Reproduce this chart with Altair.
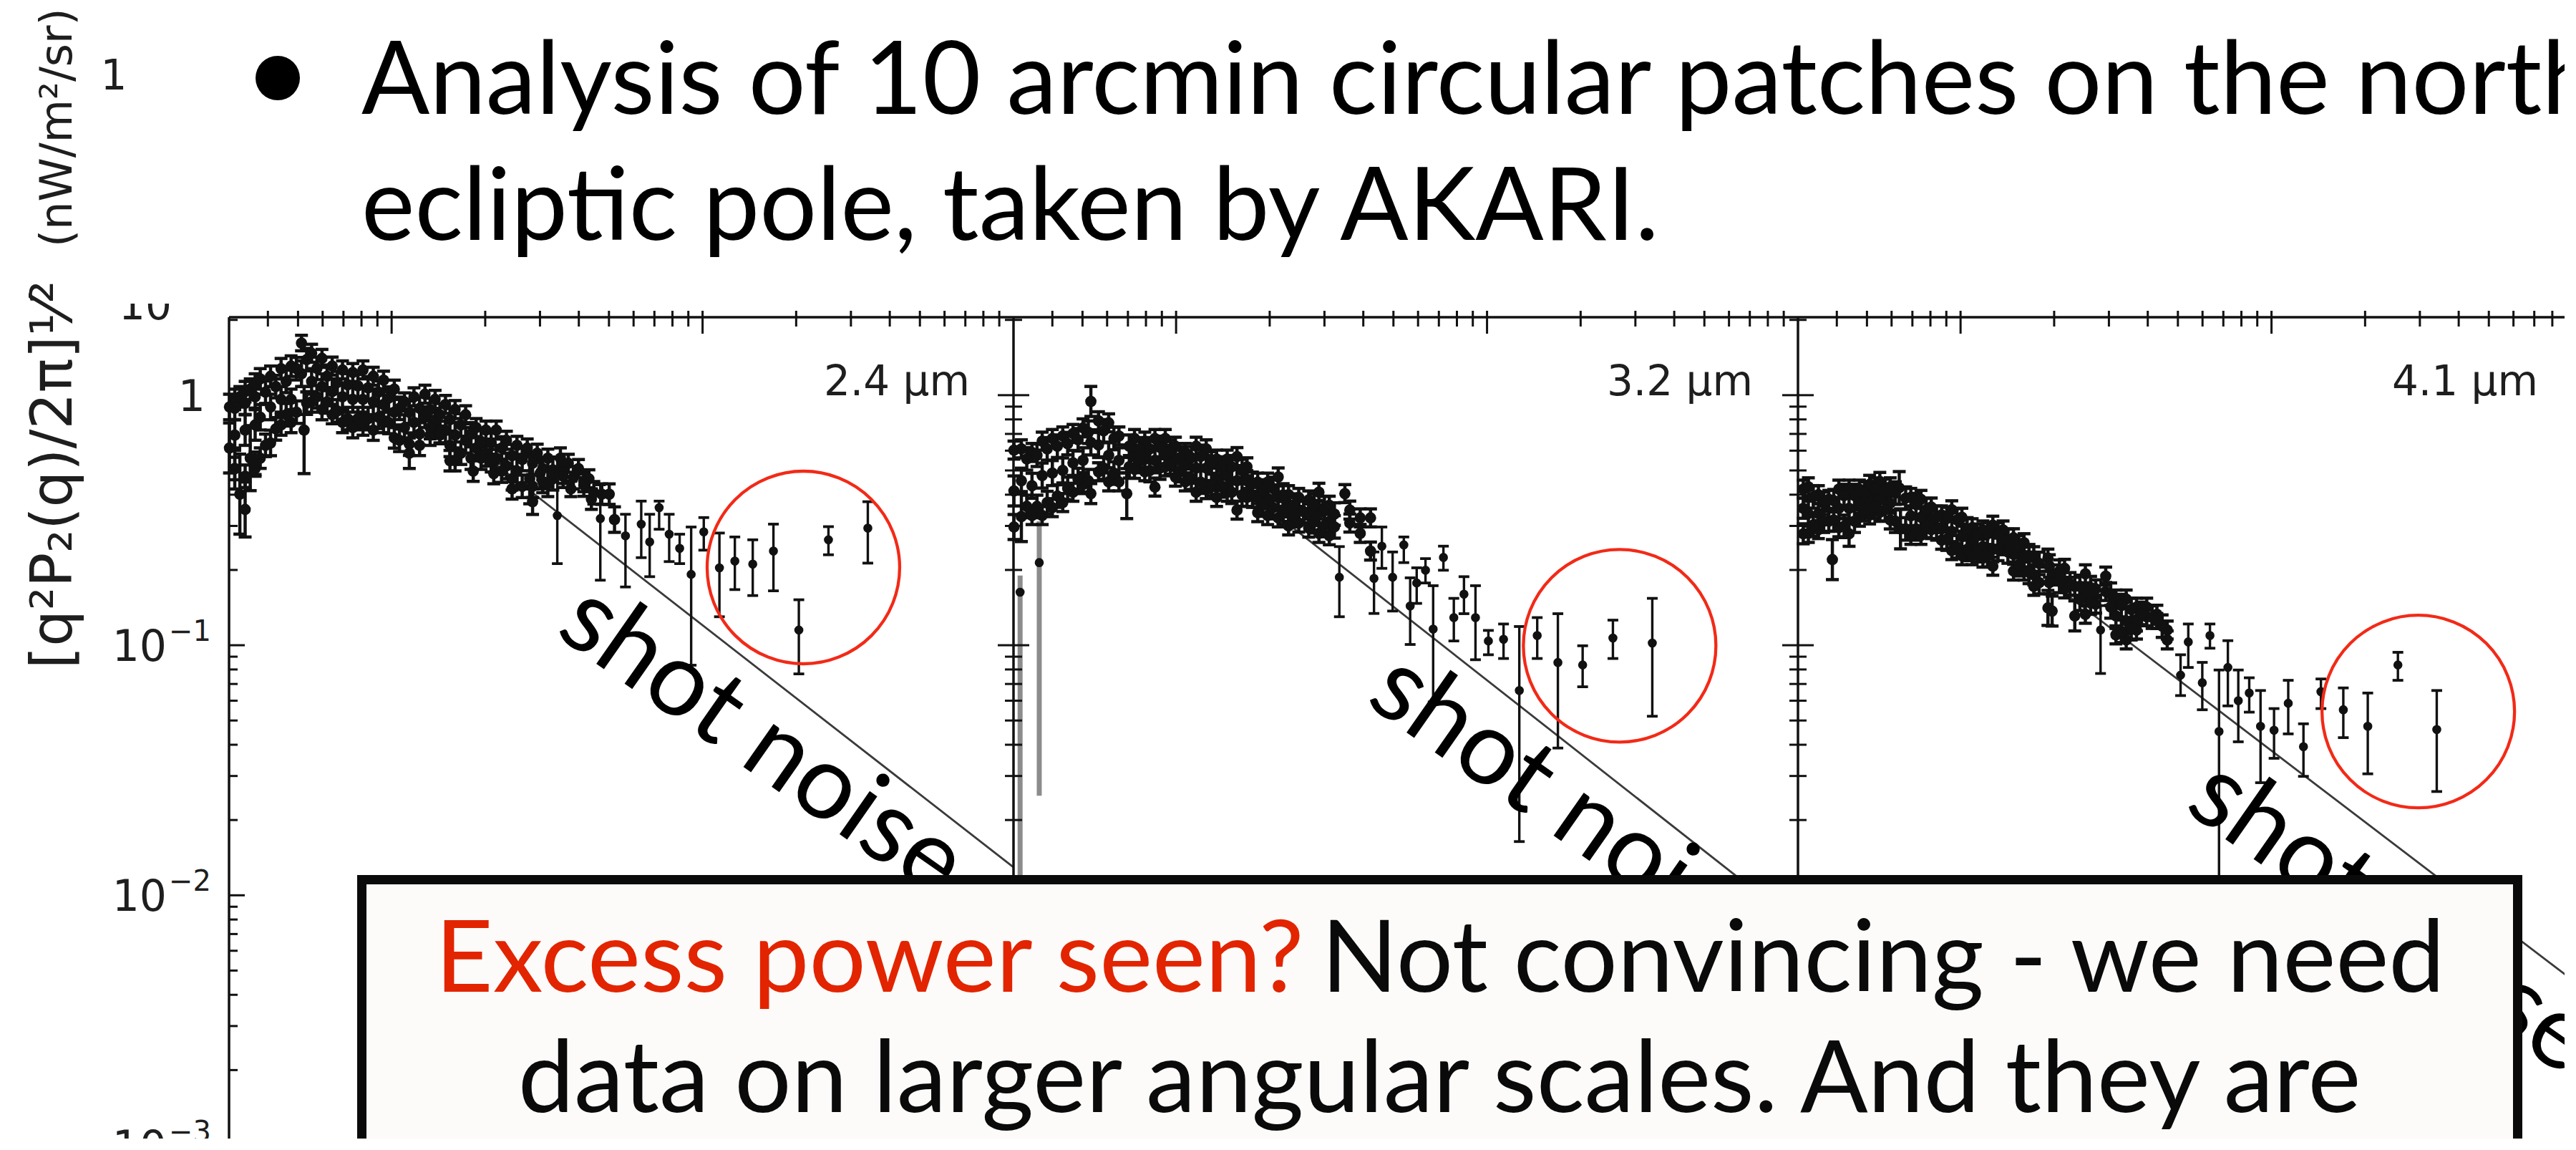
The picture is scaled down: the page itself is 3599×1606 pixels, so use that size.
import altair as alt
import pandas as pd

# ---------------- data ----------------
# dense small-scale points: (theta [arcsec], value, half error in dex)
P1_DENSE = [
    (3.01, 0.897, .051), (3.01, 0.615, .10),
    (3.13, 0.962, .041), (3.13, 0.692, .061), (3.13, 0.509, .082),
    (3.25, 0.985, .041), (3.25, 0.402, .16),
    (3.38, 1.033, .041), (3.38, 0.725, .061), (3.38, 0.349, .11),
    (3.51, 1.057, .041), (3.51, 0.560, .13),
    (3.64, 1.108, .041), (3.64, 0.760, .061), (3.64, 0.509, .031),
    (3.78, 1.162, .041), (3.78, 0.816, .051), (3.78, 0.560, .041),
    (4.08, 1.19, .041), (4.08, 0.897, .051), (4.08, 0.644, .051),
    (4.41, 1.276, .041), (4.41, 0.962, .051), (4.41, 0.760, .041),
    (4.75, 1.307, .041), (4.75, 0.962, .041), (4.75, 0.778, .041),
    (5.13, 1.616, .031), (5.13, 1.218, .051), (5.23, 0.725, .174),
    (5.53, 1.471, .036), (5.53, 1.135, .051), (5.53, 0.940, .041),
    (5.97, 1.403, .036), (5.97, 1.082, .051), (5.97, 0.876, .041),
    (6.44, 1.307, .036), (6.44, 1.033, .051), (6.44, 0.835, .036),
    (6.95, 1.262, .036), (6.95, 0.985, .051), (6.95, 0.778, .041),
    (7.50, 1.232, .036), (7.50, 0.962, .051), (7.50, 0.742, .041),
    (8.09, 1.262, .036), (8.09, 0.962, .051), (8.09, 0.760, .041),
    (8.73, 1.19, .036), (8.73, 0.940, .051), (8.73, 0.725, .041),
    (9.42, 1.148, .036), (9.42, 0.918, .051), (9.42, 0.778, .041),
    (10.2, 1.057, .036), (10.2, 0.855, .051), (10.2, 0.675, .041),
    (11.0, 0.940, .036), (11.0, 0.742, .051), (11.4, 0.586, .061),
    (11.8, 0.985, .036), (11.8, 0.778, .051), (12.3, 0.630, .041),
    (12.8, 1.009, .036), (12.8, 0.816, .041), (13.3, 0.692, .041),
    (13.8, 0.962, .036), (13.8, 0.778, .051), (14.3, 0.692, .031),
    (14.9, 0.918, .036), (14.9, 0.725, .051), (15.4, 0.547, .041),
    (16.0, 0.876, .036), (16.0, 0.692, .051), (16.0, 0.547, .041),
    (17.3, 0.835, .036), (17.3, 0.660, .051), (18.3, 0.497, .041),
    (18.7, 0.742, .036), (18.7, 0.615, .041),
    (20.1, 0.725, .036), (20.1, 0.586, .051), (21.3, 0.486, .041),
    (21.7, 0.725, .036), (21.7, 0.560, .051),
    (23.4, 0.660, .036), (23.4, 0.521, .051), (24.4, 0.422, .041),
    (25.3, 0.630, .036), (25.3, 0.497, .061),
    (27.3, 0.615, .036), (27.8, 0.463, .10), (28.4, 0.375, .051),
    (29.4, 0.586, .036), (30.0, 0.486, .061),
    (31.8, 0.560, .036), (31.8, 0.442, .051),
    (34.9, 0.560, .041),
    (37.0, 0.534, .036), (37.7, 0.422, .031),
    (39.9, 0.509, .036), (41.5, 0.452, .041),
    (43.1, 0.463, .036), (43.9, 0.384, .041),
    (47.4, 0.402, .041), (50.1, 0.402, .041), (52.1, 0.318, .051),
]
P1_DENSE_B = [
    (3.13, 0.886, .045), (3.13, 0.509, .045), (3.38, 0.929, .045), (3.38, 0.474, .045),
    (3.64, 0.985, .045), (3.64, 0.534, .045), (3.93, 1.028, .045), (3.93, 0.630, .045),
    (4.24, 1.082, .045), (4.24, 0.733, .045), (4.58, 1.135, .045), (4.58, 0.835, .045),
    (4.94, 1.276, .045), (4.94, 0.855, .045), (5.33, 1.387, .045), (5.33, 0.929, .045),
    (5.75, 1.28, .045), (5.75, 0.985, .045), (6.20, 1.19, .045), (6.20, 0.940, .045),
    (6.69, 1.123, .045), (6.69, 0.865, .045), (7.22, 1.10, .045), (7.22, 0.806, .045),
    (7.79, 1.09, .045), (7.79, 0.806, .045), (8.40, 1.07, .045), (8.40, 0.806, .045),
    (9.07, 1.028, .045), (9.07, 0.816, .045), (9.78, 0.973, .045), (9.78, 0.778, .045),
    (10.6, 0.886, .045), (10.6, 0.660, .045), (11.4, 0.855, .045), (11.4, 0.637, .045),
    (12.3, 0.886, .045), (12.3, 0.70, .045), (13.3, 0.876, .045), (13.3, 0.742, .045),
    (14.3, 0.835, .045), (14.3, 0.709, .045), (15.4, 0.797, .045), (15.4, 0.630, .045),
    (16.7, 0.760, .045), (16.7, 0.586, .045), (18.0, 0.70, .045), (18.0, 0.560, .045),
    (19.4, 0.652, .045), (19.4, 0.560, .045), (20.9, 0.644, .045), (20.9, 0.547, .045),
    (22.6, 0.615, .045), (22.6, 0.497, .045), (24.4, 0.573, .045), (24.4, 0.463, .045),
    (26.3, 0.553, .045), (26.3, 0.432, .045), (28.4, 0.534, .045), (28.4, 0.432, .045),
    (30.6, 0.509, .045), (30.6, 0.452, .045), (33.0, 0.503, .045), (33.0, 0.463, .045),
    (35.6, 0.492, .045), (35.6, 0.474, .045), (38.4, 0.468, .045), (41.5, 0.437, .045),
    (44.7, 0.407, .045),
]
# isolated points: (theta, value, lower, upper)
P1_SPARSE = [
    (34.1, 0.330, 0.212, 0.567), (46.9, 0.321, 0.182, 0.438),
    (56.5, 0.274, 0.171, 0.334), (63.5, 0.305, 0.224, 0.377),
    (67.6, 0.259, 0.188, 0.334), (72.5, 0.355, 0.291, 0.377),
    (78.1, 0.278, 0.216, 0.334), (84.4, 0.244, 0.212, 0.278),
    (91.9, 0.192, 0.0832, 0.297), (100.9, 0.284, 0.240, 0.324),
    (113.3, 0.204, 0.130, 0.281), (127, 0.217, 0.167, 0.271),
    (145, 0.211, 0.158, 0.264), (169, 0.238, 0.165, 0.305),
    (204, 0.115, 0.0768, 0.152), (254, 0.264, 0.230, 0.298),
    (340, 0.294, 0.213, 0.375),
]

P2_DENSE = [
    (3.01, 0.603, .036), (3.01, 0.414, .06), (3.01, 0.297, .05),
    (3.18, 0.61, .036), (3.18, 0.455, .05), (3.18, 0.327, .1),
    (3.44, 0.59, .036), (3.44, 0.434, .05), (3.44, 0.33, .036),
    (3.71, 0.655, .036), (3.71, 0.477, .05), (3.71, 0.33, .036),
    (4.00, 0.671, .036), (4.00, 0.488, .05), (4.00, 0.355, .036),
    (4.32, 0.687, .036), (4.32, 0.500, .05), (4.32, 0.372, .036),
    (4.66, 0.703, .036), (4.66, 0.536, .05), (4.66, 0.409, .036),
    (5.02, 0.74, .036), (5.02, 0.549, .05), (5.02, 0.439, .036),
    (5.32, 0.944, .06), (5.32, 0.647, .05), (5.32, 0.404, .04),
    (5.63, 0.79, .036), (5.63, 0.632, .05), (5.63, 0.494, .036),
    (6.07, 0.775, .036), (6.07, 0.575, .05), (6.07, 0.45, .036),
    (6.55, 0.687, .036), (6.55, 0.549, .05), (6.55, 0.45, .036),
    (6.94, 0.404, .1),
    (7.35, 0.671, .036), (7.35, 0.575, .04), (7.35, 0.505, .036),
    (7.93, 0.655, .036), (7.93, 0.562, .04), (7.93, 0.494, .036),
    (8.55, 0.671, .036), (8.55, 0.549, .05), (8.55, 0.429, .036),
    (9.23, 0.671, .036), (9.23, 0.575, .04), (9.23, 0.517, .036),
    (9.95, 0.625, .036), (9.95, 0.549, .04), (9.95, 0.47, .036),
    (10.7, 0.59, .036), (10.7, 0.524, .04), (10.7, 0.45, .036),
    (11.6, 0.625, .036), (11.6, 0.511, .05), (11.6, 0.409, .036),
    (12.5, 0.61, .036), (12.5, 0.511, .05), (12.5, 0.419, .036),
    (13.5, 0.555, .036), (13.5, 0.466, .05), (13.5, 0.39, .036),
    (14.6, 0.555, .036), (14.6, 0.477, .04), (14.6, 0.409, .036),
    (15.7, 0.568, .036), (15.7, 0.455, .05), (15.7, 0.347, .036),
    (16.9, 0.517, .036), (16.9, 0.455, .04), (16.9, 0.39, .036),
    (18.3, 0.449, .036), (18.3, 0.39, .04), (18.3, 0.339, .036),
    (19.7, 0.449, .036), (19.7, 0.386, .04), (19.7, 0.33, .036),
    (21.3, 0.471, .036), (21.3, 0.39, .05), (21.3, 0.323, .036),
    (23.0, 0.40, .036), (23.0, 0.343, .04), (23.0, 0.30, .036),
    (24.8, 0.39, .036), (24.8, 0.343, .04), (24.8, 0.308, .036),
    (26.7, 0.381, .036), (26.7, 0.335, .04), (26.7, 0.294, .036),
    (28.8, 0.409, .036), (28.8, 0.338, .05), (28.8, 0.28, .036),
    (31.1, 0.363, .036), (31.1, 0.312, .04), (31.1, 0.274, .036),
    (34.9, 0.404, .036),
    (36.2, 0.347, .036), (36.2, 0.308, .036),
    (39.1, 0.323, .036), (39.1, 0.28, .036),
    (42.2, 0.323, .036), (42.2, 0.238, .036),
]
P2_DENSE_B = [
    (3.31, 0.556, .045), (3.31, 0.359, .045), (3.57, 0.575, .045), (3.57, 0.359, .045),
    (3.85, 0.610, .045), (3.85, 0.372, .045), (4.15, 0.625, .045), (4.15, 0.395, .045),
    (4.48, 0.640, .045), (4.48, 0.424, .045), (4.84, 0.663, .045), (4.84, 0.46, .045),
    (5.22, 0.711, .045), (5.22, 0.455, .045), (5.85, 0.720, .045), (5.85, 0.511, .045),
    (6.31, 0.671, .045), (6.31, 0.488, .045), (7.07, 0.625, .045), (7.07, 0.517, .045),
    (7.63, 0.610, .045), (7.63, 0.543, .045), (8.23, 0.610, .045), (8.23, 0.4995, .045),
    (8.88, 0.618, .045), (8.88, 0.511, .045), (9.58, 0.596, .045), (9.58, 0.536, .045),
    (10.3, 0.562, .045), (10.3, 0.4995, .045), (11.2, 0.562, .045), (11.2, 0.4655, .045),
    (12.0, 0.569, .045), (12.0, 0.449, .045), (13.0, 0.536, .045), (13.0, 0.439, .045),
    (14.0, 0.511, .045), (14.0, 0.4337, .045), (15.1, 0.517, .045), (15.1, 0.409, .045),
    (16.3, 0.4995, .045), (16.3, 0.399, .045), (17.6, 0.444, .045), (17.6, 0.3947, .045),
    (19.0, 0.4137, .045), (19.0, 0.3635, .045), (20.5, 0.4236, .045), (20.5, 0.355, .045),
    (22.1, 0.399, .045), (22.1, 0.3386, .045), (23.9, 0.3635, .045), (23.9, 0.33, .045),
    (25.7, 0.3426, .045), (27.8, 0.3635, .045), (27.8, 0.3118, .045),
    (30.0, 0.355, .045), (30.0, 0.301, .045), (32.3, 0.3346, .045), (32.3, 0.2974, .045),
]
P2_SPARSE = [
    (33.5, 0.187, 0.130, 0.248), (43.3, 0.185, 0.134, 0.236),
    (45.9, 0.249, 0.203, 0.297), (49.7, 0.187, 0.137, 0.236),
    (54.0, 0.252, 0.214, 0.271), (56.6, 0.1435, 0.1007, 0.186),
    (59.4, 0.1774, 0.147, 0.204), (63.4, 0.1995, 0.1774, 0.222),
    (67.1, 0.116, 0.0593, 0.173), (72.4, 0.2245, 0.1995, 0.249),
    (78.2, 0.129, 0.104, 0.154), (84.3, 0.160, 0.1337, 0.188),
    (91.8, 0.129, 0.0875, 0.173), (101, 0.104, 0.0916, 0.1146),
    (113, 0.1056, 0.0885, 0.1216), (127, 0.0659, 0.0164, 0.1188),
    (145, 0.1094, 0.0885, 0.129), (169, 0.0853, 0.0388, 0.1337),
    (203, 0.0834, 0.0682, 0.0995), (254, 0.1069, 0.0885, 0.126),
    (340, 0.102, 0.052, 0.154),
]
P2_GRAY = [(3.15, 0.163, 0.002, 0.19), (3.63, 0.214, 0.025, 0.313)]

P3_DENSE = [
    (3.12, 0.421, .036), (3.12, 0.353, .04), (3.12, 0.279, .04),
    (3.24, 0.43, .036), (3.24, 0.336, .05), (3.24, 0.28, .036),
    (3.49, 0.40, .036), (3.49, 0.336, .04), (3.49, 0.29, .036),
    (3.77, 0.383, .036), (3.77, 0.313, .04), (3.87, 0.22, .08),
    (4.06, 0.421, .036), (4.06, 0.353, .04), (4.06, 0.295, .036),
    (4.38, 0.421, .036), (4.38, 0.353, .04), (4.38, 0.279, .05),
    (4.73, 0.421, .036), (4.73, 0.37, .04), (4.73, 0.325, .036),
    (5.10, 0.44, .036), (5.10, 0.378, .04), (5.10, 0.332, .036),
    (5.50, 0.452, .036), (5.50, 0.387, .04), (5.50, 0.34, .036),
    (5.94, 0.43, .036), (5.94, 0.37, .04), (5.94, 0.317, .036),
    (6.35, 0.426, .065), (6.41, 0.292, .08),
    (6.92, 0.39, .036), (6.92, 0.329, .04), (6.92, 0.275, .036),
    (7.46, 0.383, .036), (7.46, 0.325, .04), (7.46, 0.275, .036),
    (8.05, 0.357, .036), (8.05, 0.313, .04), (8.05, 0.29, .036),
    (8.69, 0.332, .036), (8.69, 0.292, .04), (8.69, 0.263, .036),
    (9.37, 0.348, .036), (9.37, 0.285, .05), (9.37, 0.239, .036),
    (10.1, 0.325, .036), (10.1, 0.272, .05), (10.1, 0.228, .036),
    (10.9, 0.295, .036), (10.9, 0.253, .04), (10.9, 0.228, .036),
    (11.8, 0.289, .036), (11.8, 0.248, .04), (11.8, 0.223, .036),
    (12.7, 0.302, .036), (12.7, 0.242, .05), (12.7, 0.207, .036),
    (13.7, 0.289, .036), (13.7, 0.266, .03), (13.7, 0.25, .036),
    (14.8, 0.269, .036), (14.8, 0.231, .04), (14.8, 0.198, .036),
    (16.0, 0.257, .036), (16.0, 0.225, .04), (16.0, 0.198, .036),
    (17.2, 0.228, .036), (17.2, 0.191, .04), (17.2, 0.172, .036),
    (19.1, 0.223, .036), (19.1, 0.141, .07),
    (19.7, 0.191, .04), (19.7, 0.137, .06),
    (21.6, 0.203, .036), (21.6, 0.168, .036),
    (23.3, 0.172, .036), (23.3, 0.131, .06),
    (25.2, 0.193, .036), (25.2, 0.158, .04), (25.2, 0.133, .036),
    (27.2, 0.168, .036), (27.2, 0.146, .036),
    (29.3, 0.189, .036), (29.3, 0.164, .036),
    (31.6, 0.153, .036), (31.6, 0.131, .05), (31.6, 0.11, .036),
    (34.1, 0.153, .036), (34.1, 0.125, .05), (34.1, 0.105, .036),
    (36.8, 0.142, .036), (36.8, 0.125, .04), (36.8, 0.115, .036),
    (39.7, 0.142, .036), (39.7, 0.13, .036),
    (42.8, 0.133, .036), (42.8, 0.125, .03),
    (46.2, 0.115, .036), (46.2, 0.105, .036),
]
P3_DENSE_B = [
    (3.36, 0.392, .045), (3.36, 0.3025, .045), (3.63, 0.3695, .045), (3.63, 0.3133, .045),
    (3.91, 0.3784, .045), (3.91, 0.317, .045), (4.22, 0.3967, .045), (4.22, 0.2989, .045),
    (4.56, 0.3967, .045), (4.56, 0.3133, .045), (4.91, 0.406, .045), (4.91, 0.3484, .045),
    (5.30, 0.4207, .045), (5.30, 0.3566, .045), (5.72, 0.416, .045), (5.72, 0.3484, .045),
    (6.17, 0.406, .045), (6.17, 0.3133, .045), (6.66, 0.3874, .045), (6.66, 0.2919, .045),
    (7.19, 0.3652, .045), (7.19, 0.2919, .045), (7.75, 0.3484, .045), (7.75, 0.2989, .045),
    (8.37, 0.3246, .045), (8.37, 0.2919, .045), (9.03, 0.3209, .045), (9.03, 0.2657, .045),
    (9.74, 0.317, .045), (9.74, 0.2475, .045), (10.5, 0.2919, .045), (10.5, 0.2417, .045),
    (11.3, 0.2753, .045), (11.3, 0.2389, .045), (12.2, 0.2785, .045), (12.2, 0.228, .045),
    (13.2, 0.2785, .045), (13.2, 0.2417, .045), (14.2, 0.2626, .045), (14.2, 0.236, .045),
    (15.4, 0.2475, .045), (15.4, 0.2099, .045), (16.6, 0.228, .045), (16.6, 0.1956, .045),
    (17.9, 0.2124, .045), (17.9, 0.178, .045), (19.3, 0.2074, .045), (19.3, 0.178, .045),
    (20.8, 0.1978, .045), (20.8, 0.18, .045), (22.5, 0.176, .045),
    (24.2, 0.1718, .045), (24.2, 0.1527, .045), (26.2, 0.17, .045), (26.2, 0.1474, .045),
    (30.4, 0.16, .045), (30.4, 0.1423, .045), (32.9, 0.144, .045), (32.9, 0.1137, .045),
    (35.4, 0.139, .045), (35.4, 0.1164, .045), (38.2, 0.134, .045), (41.3, 0.1295, .045),
    (44.5, 0.1192, .045),
]
P3_SPARSE = [
    (28.2, 0.1151, 0.0771, 0.144), (51.0, 0.0759, 0.0629, 0.0916),
    (54.0, 0.1031, 0.0815, 0.1216), (59.9, 0.0708, 0.0552, 0.0854),
    (63.4, 0.1094, 0.0973, 0.1216), (67.8, 0.0452, 0.002, 0.0796),
    (72.4, 0.0815, 0.0572, 0.1043), (78.2, 0.06, 0.0411, 0.0796),
    (84.8, 0.0644, 0.054, 0.0741), (92.2, 0.0474, 0.0282, 0.0659),
    (101.9, 0.0457, 0.0353, 0.0558), (113.2, 0.0586, 0.0442, 0.0724),
    (126.7, 0.0393, 0.0299, 0.0485), (144.2, 0.0652, 0.0558, 0.0733),
    (170.2, 0.0552, 0.0427, 0.0675), (204, 0.0474, 0.0306, 0.0644),
    (255, 0.0834, 0.0724, 0.0937), (340, 0.046, 0.026, 0.0659),
]

# shot-noise lines (end points) and highlighted regions (circle centres)
SHOT = [
    [(20, 0.571), (1000, 0.01294)],
    [(22, 0.318), (1000, 0.00764)],
    [(22, 0.159), (1000, 0.00427)],
]
CIRCLES = [(211, 0.2046), (267, 0.0995), (296.5, 0.0543)]
WAVELENGTHS = ["2.4  μm", "3.2  μm", "4.1  μm"]

X_MINOR = [4, 5, 6, 7, 8, 9, 20, 30, 40, 50, 60, 70, 80, 90,
           200, 300, 400, 500, 600, 700, 800, 900]
X_MAJOR = [10, 100]
Y_MAJOR = [1, 0.1, 0.01, 0.001]
Y_MINOR = [0.002, 0.003, 0.004, 0.005, 0.006, 0.007, 0.008, 0.009,
           0.02, 0.03, 0.04, 0.05, 0.06, 0.07, 0.08, 0.09,
           0.2, 0.3, 0.4, 0.5, 0.6, 0.7, 0.8, 0.9, 2]
Y_LABEL_EXP = ["−1", "−2", "−3"]

TITLE_1 = "Analysis of 10 arcmin circular patches on the north"
TITLE_2 = "ecliptic pole, taken by AKARI."
Y_TITLE_MAIN = "[q²P₂(q)/2π]¹⁄²"
Y_TITLE_UNIT = "(nW/m²/sr)"
SHOT_LABEL = "shot noise"
BOX_RED = "Excess power seen?"
BOX_BLACK = "Not convincing - we need"
BOX_LINE2 = "data on larger angular scales. And they are"

# ---------------- layout (page pixels) ----------------
OFF = 8
W, H = 3575, 1582
PANEL_LEFT = [320, 1416, 2512]
PANEL_W = 1096
FRAMES = [320, 1416, 2512, 3608]
TOP = 443
Y_BOTTOM = 1599.5
INK = "#111111"
AXTXT = "#1e1e1e"
RED = "#f22a17"

ysc = alt.Scale(type="log", domain=[0.001, 2.05],
                range=[Y_BOTTOM - OFF, TOP - OFF], nice=False)


def Y(f):
    return alt.Y(f"{f}:Q", scale=ysc, axis=None)


def one(text=""):
    return pd.DataFrame({"t": [text]})


def txt(text, x, y, size, font="DejaVu Sans", color=INK, align="left", angle=None):
    kw = dict(font=font, fontSize=size, color=color, align=align, baseline="alphabetic")
    if angle is not None:
        kw["angle"] = angle
    return alt.Chart(one(text)).mark_text(**kw).encode(
        text="t:N", x=alt.value(x - OFF), y=alt.value(y - OFF))


def rule(x, y, x2=None, y2=None, width=3.5, color=INK):
    enc = dict(x=alt.value(x - OFF), y=alt.value(y - OFF))
    if x2 is not None:
        enc["x2"] = alt.value(x2 - OFF)
    if y2 is not None:
        enc["y2"] = alt.value(y2 - OFF)
    return alt.Chart(one()).mark_rule(color=color, strokeWidth=width).encode(**enc)


def bars(df, X, dot, width, cap, capw):
    base = alt.Chart(df)
    return [
        base.mark_rule(color=INK, strokeWidth=width).encode(x=X(), y=Y("lo"), y2=alt.Y2("hi")),
        base.mark_tick(orient="horizontal", size=cap, thickness=capw, color=INK, opacity=1).encode(x=X(), y=Y("lo")),
        base.mark_tick(orient="horizontal", size=cap, thickness=capw, color=INK, opacity=1).encode(x=X(), y=Y("hi")),
        base.mark_circle(size=dot, color=INK, opacity=1).encode(x=X(), y=Y("v")),
    ]


def panel(i, dense, dense_b, sparse, gray=None):
    L = PANEL_LEFT[i] - OFF
    xsc = alt.Scale(type="log", domain=[3, 1000], range=[L, L + PANEL_W], nice=False)

    def X(f="theta"):
        return alt.X(f"{f}:Q", scale=xsc, axis=None)

    d = pd.DataFrame(list(dense) + list(dense_b), columns=["theta", "v", "e"])
    d["lo"] = d["v"] / 10 ** d["e"]
    d["hi"] = d["v"] * 10 ** d["e"]
    s = pd.DataFrame(sparse, columns=["theta", "v", "lo", "hi"])
    shot = pd.DataFrame(SHOT[i], columns=["theta", "v"])

    layers = [alt.Chart(shot).mark_line(color="#3a3a3a", strokeWidth=2.8).encode(x=X(), y=Y("v"))]
    if gray:
        g = pd.DataFrame(gray, columns=["theta", "v", "lo", "hi"])
        layers.append(alt.Chart(g).mark_rule(color="#8c8c8c", strokeWidth=7).encode(
            x=X(), y=Y("lo"), y2=alt.Y2("hi")))
        layers.append(alt.Chart(g).mark_circle(size=160, color=INK, opacity=1).encode(x=X(), y=Y("v")))
    layers += bars(d[["theta", "v", "lo", "hi"]], X, 250, 4.5, 18, 4.5)
    layers += bars(s, X, 160, 3.4, 15, 3.8)
    layers += [
        alt.Chart(pd.DataFrame({"t": X_MINOR})).mark_rule(color=INK, strokeWidth=3).encode(
            x=X("t"), y=alt.value(TOP - OFF - 9), y2=alt.value(TOP - OFF + 13)),
        alt.Chart(pd.DataFrame({"t": X_MAJOR})).mark_rule(color=INK, strokeWidth=3).encode(
            x=X("t"), y=alt.value(TOP - OFF - 9), y2=alt.value(TOP - OFF + 23)),
        alt.Chart(pd.DataFrame([CIRCLES[i]], columns=["theta", "v"])).mark_point(
            shape="circle", size=269 ** 2, filled=False, color=RED, strokeWidth=4.3, opacity=1
        ).encode(x=X(), y=Y("v")),
    ]
    return alt.layer(*layers)


def yticks(vals, x, length):
    return alt.Chart(pd.DataFrame({"v": vals})).mark_rule(color=INK, strokeWidth=3).encode(
        y=Y("v"), x=alt.value(x - OFF), x2=alt.value(x - OFF + length))


layers = [
    panel(0, P1_DENSE, P1_DENSE_B, P1_SPARSE),
    panel(1, P2_DENSE, P2_DENSE_B, P2_SPARSE, P2_GRAY),
    panel(2, P3_DENSE, P3_DENSE_B, P3_SPARSE),
]

# frames
for fx in FRAMES:
    layers.append(rule(fx, TOP, y2=1700))
layers.append(rule(PANEL_LEFT[0], TOP, x2=FRAMES[-1]))
for k, fx in enumerate(FRAMES):
    if k < 3:
        layers += [yticks(Y_MAJOR, fx, 22), yticks(Y_MINOR, fx, 12)]
    if k > 0:
        layers += [yticks(Y_MAJOR, fx, -22), yticks(Y_MINOR, fx, -12)]

# y tick labels
lab = pd.DataFrame({"v": Y_MAJOR[1:], "t": ["10"] * 3, "e": Y_LABEL_EXP})
layers += [
    alt.Chart(pd.DataFrame({"v": [1], "t": ["1"]})).mark_text(
        font="DejaVu Sans", fontSize=60, align="right", baseline="alphabetic", dy=22, color=AXTXT
    ).encode(y=Y("v"), x=alt.value(287 - OFF), text="t:N"),
    alt.Chart(lab).mark_text(
        font="DejaVu Sans", fontSize=60, align="right", baseline="alphabetic", dy=22, color=AXTXT
    ).encode(y=Y("v"), x=alt.value(233 - OFF), text="t:N"),
    alt.Chart(lab).mark_text(
        font="DejaVu Sans", fontSize=40, align="left", baseline="alphabetic", dy=-6, color=AXTXT
    ).encode(y=Y("v"), x=alt.value(236 - OFF), text="e:N"),
]

# leftovers of the figure row above (partly hidden by the title box)
layers += [
    txt("10", 203, 446, 58, color=AXTXT, align="center"),
    alt.Chart(one()).mark_rect(color="white").encode(
        x=alt.value(150 - OFF), x2=alt.value(262 - OFF), y=alt.value(0), y2=alt.value(424 - OFF)),
    txt("1", 159, 125, 58, color=AXTXT, align="center"),
]

# wavelength labels
for k, lbl in enumerate(WAVELENGTHS):
    layers.append(txt(lbl, [1355, 2449, 3546][k], 552, 58, color=AXTXT, align="right"))

# y-axis title
layers += [
    txt(Y_TITLE_MAIN, 100, 934, 80, color=AXTXT, angle=270),
    txt(Y_TITLE_UNIT, 100, 345, 62, color=AXTXT, angle=270),
]

# "shot noise" annotations
for (x, y) in [(1040, 1072), (2172, 1168), (3316, 1317)]:
    layers.append(txt(SHOT_LABEL, x, y, 145, font="Lato", color="black", align="center", angle=35))

# text box
layers += [
    alt.Chart(one()).mark_rect(color="#fcfbf9").encode(
        x=alt.value(505 - OFF), x2=alt.value(3518 - OFF), y=alt.value(1228 - OFF), y2=alt.value(1700)),
    rule(499, 1228.5, x2=3524, width=13, color="#0a0a0a"),
    rule(505.5, 1222, y2=1800, width=13, color="#0a0a0a"),
    rule(3517.5, 1222, y2=1800, width=13, color="#0a0a0a"),
    txt(BOX_RED, 608, 1385, 140, font="Lato", color="#e22400"),
    txt(BOX_BLACK, 1846, 1385, 140, font="Lato", color="#0a0a0a"),
    txt(BOX_LINE2, 2011, 1553, 140, font="Lato", color="#0a0a0a", align="center"),
]

# slide title
layers += [
    alt.Chart(one()).mark_point(shape="circle", filled=True, size=62 ** 2, color="black", opacity=1).encode(
        x=alt.value(388 - OFF), y=alt.value(109 - OFF)),
    txt(TITLE_1, 505, 159, 141, font="Lato", color="black"),
    txt(TITLE_2, 505, 335, 141, font="Lato", color="black"),
]

chart = alt.layer(*layers).resolve_scale(x="independent").properties(
    width=W, height=H, autosize=alt.AutoSizeParams(type="none"), padding=0, background="white"
).configure_view(strokeWidth=0)

chart.save("out.html", embed_options={"renderer": "svg", "actions": False})
